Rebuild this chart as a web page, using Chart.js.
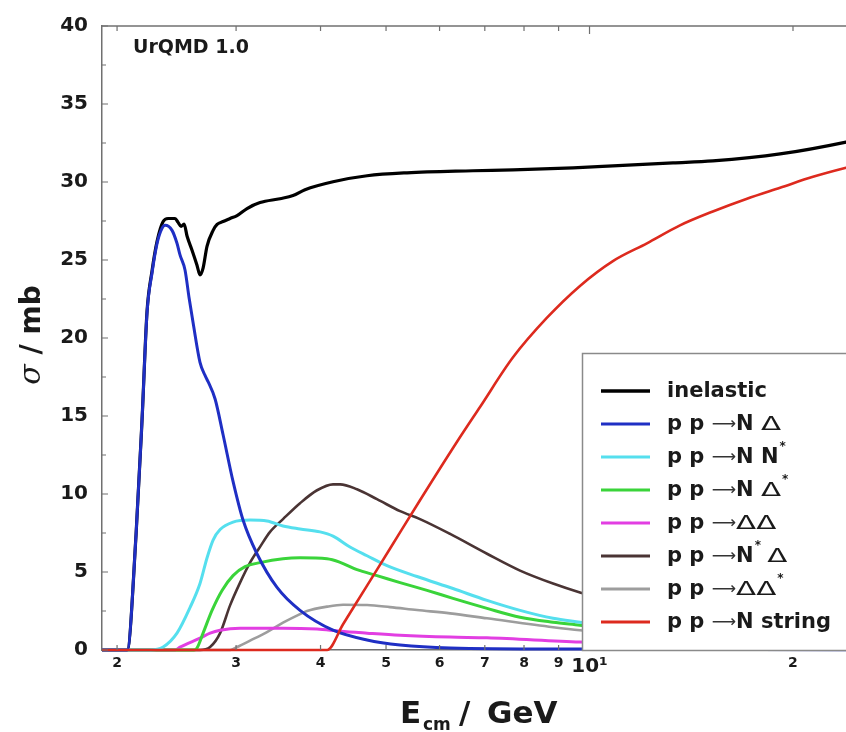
<!DOCTYPE html>
<html>
<head>
<meta charset="utf-8">
<script src="https://cdn.jsdelivr.net/npm/chart.js@4.4.1/dist/chart.umd.min.js"></script>
<style>
  html, body { margin: 0; padding: 0; overflow: hidden; background: #fff; width: 846px; height: 732px; }
  canvas { display: block; }
</style>
</head>
<body>
<canvas id="c" width="870" height="732"></canvas>
<script>
// Centre-of-mass energy (GeV) and cross section (mb) for each p p channel

const eInelastic = [1.9, 2.07, 2.134, 2.178, 2.215, 2.253, 2.292, 2.34, 2.38, 2.437, 2.462, 2.487, 2.513, 2.539, 2.582, 2.626, 2.653, 2.681, 2.717, 2.774, 2.812, 2.87, 2.939, 3.01, 3.114, 3.255, 3.484, 3.642, 3.794, 4.174, 4.687, 5.371, 6.724, 7.706, 9.454, 10.83, 13.29, 15.22, 19.14, 23.96, 25];
const sigInelastic = [0, 0, 7.44, 14.82, 21.7, 24.3, 26.2, 27.47, 27.66, 27.66, 27.41, 27.15, 27.3, 26.52, 25.63, 24.67, 24.04, 24.48, 25.88, 26.9, 27.28, 27.47, 27.66, 27.85, 28.3, 28.68, 28.93, 29.13, 29.51, 30.02, 30.4, 30.59, 30.72, 30.78, 30.91, 31.03, 31.22, 31.35, 31.8, 32.56, 32.75];

const eNDelta = [1.9, 2.07, 2.134, 2.178, 2.215, 2.253, 2.292, 2.331, 2.356, 2.412, 2.453, 2.479, 2.521, 2.556, 2.591, 2.653, 2.699, 2.727, 2.793, 2.87, 2.969, 3.072, 3.221, 3.449, 3.73, 4.174, 4.687, 5.245, 6.219, 9.68, 25];
const sigNDelta = [0, 0, 7.44, 14.82, 21.62, 24.17, 26.07, 27.03, 27.22, 26.9, 26.07, 25.31, 24.36, 22.58, 20.99, 18.44, 17.6, 17.2, 16.09, 13.8, 10.81, 8.33, 6.17, 4.01, 2.54, 1.27, 0.64, 0.32, 0.13, 0.06, 0.02];

const eNNstar = [1.9, 2.238, 2.34, 2.453, 2.565, 2.653, 2.717, 2.774, 2.841, 2.969, 3.146, 3.333, 3.52, 3.73, 3.994, 4.174, 4.422, 4.687, 5.016, 5.557, 6.281, 7.053, 7.893, 8.831, 9.68, 12, 16, 25];
const sigNNstar = [0, 0, 0.19, 1.08, 2.73, 4.26, 5.9, 7.05, 7.72, 8.2, 8.33, 8.27, 7.95, 7.76, 7.57, 7.3, 6.6, 6.04, 5.41, 4.71, 3.94, 3.18, 2.54, 2.03, 1.78, 1.2, 0.8, 0.45];

const eNDeltaStar = [1.9, 2.6, 2.626, 2.681, 2.764, 2.86, 2.969, 3.093, 3.255, 3.52, 3.73, 4.09, 4.276, 4.529, 4.848, 5.245, 5.749, 6.281, 7.053, 7.893, 8.831, 9.68, 12, 16, 25];
const sigNDeltaStar = [0, 0, 0.13, 1.08, 2.54, 3.82, 4.77, 5.34, 5.6, 5.85, 5.91, 5.85, 5.62, 5.15, 4.77, 4.32, 3.82, 3.31, 2.67, 2.1, 1.78, 1.59, 1.1, 0.7, 0.4];

const eDeltaDelta = [1.9, 2.437, 2.479, 2.653, 2.746, 2.841, 3.041, 3.52, 3.953, 4.276, 4.687, 5.245, 6.219, 7.053, 9.68, 14, 25];
const sigDeltaDelta = [0, 0, 0.19, 0.76, 1.08, 1.27, 1.4, 1.4, 1.34, 1.2, 1.08, 0.95, 0.83, 0.78, 0.51, 0.35, 0.2];

const eNstarDelta = [1.9, 2.653, 2.746, 2.841, 2.939, 3.041, 3.146, 3.255, 3.368, 3.52, 3.73, 3.953, 4.174, 4.276, 4.529, 4.848, 5.245, 5.613, 6.219, 7.053, 7.893, 8.831, 9.68, 12, 16, 25];
const sigNstarDelta = [0, 0, 0.19, 1.08, 2.86, 4.32, 5.6, 6.61, 7.57, 8.39, 9.41, 10.24, 10.62, 10.62, 10.3, 9.67, 8.9, 8.39, 7.44, 6.17, 5.09, 4.26, 3.69, 2.6, 1.7, 0.9];

const eDeltaDeltaStar = [1.9, 2.939, 3.01, 3.146, 3.333, 3.52, 3.73, 3.82, 4.09, 4.319, 4.687, 5.067, 5.557, 6.219, 7.053, 8.831, 9.68, 14, 25];
const sigDeltaDeltaStar = [0, 0, 0.19, 0.6, 1.15, 1.75, 2.3, 2.5, 2.78, 2.9, 2.88, 2.75, 2.56, 2.35, 2.03, 1.46, 1.27, 0.8, 0.45];

const eString = [1.9, 4.09, 4.319, 4.687, 5.067, 5.613, 6.368, 6.887, 7.706, 8.652, 9.68, 10.83, 12.16, 13.61, 15.22, 17.1, 19.14, 21.41, 23.96, 25];
const sigString = [0, 0, 1.65, 4.13, 6.49, 9.6, 13.35, 15.58, 18.76, 21.3, 23.34, 24.93, 26.07, 27.22, 28.11, 28.93, 29.63, 30.33, 30.91, 31.1];

const xTickValues = [2, 3, 4, 5, 6, 7, 8, 9, 10, 20];
const xTickLabels = ['2', '3', '4', '5', '6', '7', '8', '9', '10\u00B9', '2'];
const yMinorTicks = [2.5, 7.5, 12.5, 17.5, 22.5, 27.5, 32.5, 37.5];

const seriesNames = ['inelastic', 'p p \u27F6N \u0394', 'p p \u27F6N N*', 'p p \u27F6N \u0394*', 'p p \u27F6\u0394\u0394', 'p p \u27F6N* \u0394', 'p p \u27F6\u0394\u0394*', 'p p \u27F6N string'];
const seriesColors = ['#000000', '#1f2fc4', '#55dfee', '#3ad43a', '#e23ee2', '#4a3434', '#9d9d9d', '#dd2a1e'];

const BOLD = '"DejaVu Sans", sans-serif';

function pts(e, s) { return e.map((x, i) => ({ x: x, y: s[i] })); }

const lineWidths = [3.2, 3, 3, 3, 3, 2.6, 2.6, 2.6];
const drawOrder = [7, 1, 2, 3, 4, 5, 6, 0];
const seriesData = [
  pts(eInelastic, sigInelastic),
  pts(eNDelta, sigNDelta),
  pts(eNNstar, sigNNstar),
  pts(eNDeltaStar, sigNDeltaStar),
  pts(eDeltaDelta, sigDeltaDelta),
  pts(eNstarDelta, sigNstarDelta),
  pts(eDeltaDeltaStar, sigDeltaDeltaStar),
  pts(eString, sigString)
];

const datasets = seriesData.map((d, i) => ({
  label: seriesNames[i],
  data: d,
  borderColor: seriesColors[i],
  backgroundColor: seriesColors[i],
  borderWidth: lineWidths[i],
  pointRadius: 0,
  cubicInterpolationMode: 'monotone',
  fill: false,
  clip: 5,
  order: drawOrder[i]
}));

// Inward tick marks on the frame plus the top edge
const frameTicks = {
  id: 'frameTicks',
  afterDatasetsDraw(chart) {
    const { ctx, chartArea: a, scales: { x, y } } = chart;
    ctx.save();
    ctx.strokeStyle = '#707070';
    ctx.lineWidth = 1.5;
    ctx.beginPath();
    ctx.moveTo(a.left, a.top); ctx.lineTo(a.right, a.top);
    ctx.stroke();
    ctx.lineWidth = 1.2;
    ctx.beginPath();
    for (let v = 0; v <= 40; v += 5) {
      const py = y.getPixelForValue(v);
      ctx.moveTo(a.left, py); ctx.lineTo(a.left + 6, py);
    }
    yMinorTicks.forEach(v => {
      const py = y.getPixelForValue(v);
      ctx.moveTo(a.left, py); ctx.lineTo(a.left + 4, py);
    });
    xTickValues.forEach(v => {
      const px = x.getPixelForValue(v);
      const len = v === 10 ? 8 : 5;
      ctx.moveTo(px, a.bottom); ctx.lineTo(px, a.bottom - len);
      ctx.moveTo(px, a.top); ctx.lineTo(px, a.top + len);
    });
    ctx.stroke();
    ctx.restore();
  }
};

// Legend box inside the plot, lower right
const legendBox = {
  id: 'legendBox',
  afterDatasetsDraw(chart) {
    const ctx = chart.ctx;
    const bx = 582, by = 353, bh = 297;
    ctx.save();
    ctx.fillStyle = '#ffffff';
    ctx.fillRect(bx, by, 400, bh);
    ctx.strokeStyle = '#8a8a8a';
    ctx.lineWidth = 1.5;
    ctx.strokeRect(bx + 0.5, by + 0.5, 400, bh);
    ctx.textBaseline = 'middle';
    ctx.textAlign = 'left';
    seriesNames.forEach((name, i) => {
      const ry = 391 + i * 33;
      ctx.strokeStyle = seriesColors[i];
      ctx.lineWidth = i === 0 ? 3.6 : 3.2;
      ctx.beginPath();
      ctx.moveTo(601, ry); ctx.lineTo(650, ry);
      ctx.stroke();
      let tx = 667;
      for (const ch of name) {
        ctx.fillStyle = '#1a1a1a';
        if (ch === '*') {
          ctx.font = 'bold 12px ' + BOLD;
          ctx.fillText(ch, tx + 1, ry - 10);
          tx += ctx.measureText(ch).width;
        } else if (ch === '\u27F6') {
          ctx.font = '17px ' + BOLD;
          ctx.fillStyle = '#333';
          ctx.fillText(ch, tx, ry + 1);
          tx += ctx.measureText(ch).width;
        } else if (ch === '\u0394') {
          ctx.font = '21px ' + BOLD;
          const w = ctx.measureText(ch).width;
          ctx.save();
          ctx.translate(tx, ry + 1);
          ctx.scale(1.4, 0.95);
          ctx.fillText(ch, 0, 0);
          ctx.restore();
          tx += w * 1.4;
        } else {
          ctx.font = 'bold 21px ' + BOLD;
          ctx.fillText(ch, tx, ry + 1);
          tx += ctx.measureText(ch).width;
        }
      }
    });
    ctx.restore();
  }
};

// Model tag and axis titles
const titles = {
  id: 'titles',
  afterDraw(chart) {
    const ctx = chart.ctx;
    ctx.save();
    ctx.fillStyle = '#1a1a1a';
    ctx.textBaseline = 'alphabetic';
    ctx.textAlign = 'left';
    ctx.font = 'bold 19px ' + BOLD;
    ctx.fillText('UrQMD 1.0', 133, 53);

    // x title: E_cm / GeV
    const base = 723;
    ctx.font = 'bold 31px ' + BOLD;
    ctx.fillText('E', 400, base);
    ctx.font = 'bold 17px ' + BOLD;
    ctx.fillText('cm', 423, base + 7);
    ctx.font = 'bold 31px ' + BOLD;
    ctx.fillText('/', 459, base);
    ctx.fillText('GeV', 487, base);

    // y title: sigma / mb, rotated
    ctx.translate(40, 335);
    ctx.rotate(-Math.PI / 2);
    ctx.font = 'italic 30px "DejaVu Serif", serif';
    const wS = ctx.measureText('\u03C3').width;
    ctx.font = 'bold 28px ' + BOLD;
    const wR = ctx.measureText(' / mb').width;
    let sx = -(wS + wR) / 2;
    ctx.font = 'italic 30px "DejaVu Serif", serif';
    ctx.fillText('\u03C3', sx, 0);
    ctx.font = 'bold 28px ' + BOLD;
    ctx.fillText(' / mb', sx + wS, 0);
    ctx.restore();
  }
};

new Chart(document.getElementById('c'), {
  type: 'line',
  data: { datasets: datasets },
  options: {
    responsive: false,
    animation: false,
    devicePixelRatio: 1,
    layout: { padding: { top: 21, right: 11.5, left: 0, bottom: 0 } },
    plugins: { legend: { display: false }, tooltip: { enabled: false } },
    scales: {
      x: {
        type: 'logarithmic',
        min: 1.9,
        max: 25,
        grid: { display: false, drawTicks: false },
        border: { display: true, color: '#707070', width: 1.5 },
        afterBuildTicks: s => { s.ticks = xTickValues.map(v => ({ value: v })); },
        afterFit: s => { s.height = 82; },
        ticks: {
          autoSkip: false,
          maxRotation: 0,
          padding: 5,
          color: '#1a1a1a',
          font: c => (c.tick && c.tick.value === 10)
            ? { family: BOLD, size: 20, weight: 'bold' }
            : { family: BOLD, size: 14, weight: 'bold' },
          callback: v => {
            const k = xTickValues.indexOf(v);
            return k >= 0 ? xTickLabels[k] : '';
          }
        }
      },
      y: {
        min: 0,
        max: 40,
        grid: { display: false, drawTicks: false },
        border: { display: true, color: '#707070', width: 1.5 },
        afterFit: s => { s.width = 102; },
        ticks: {
          stepSize: 5,
          padding: 14,
          color: '#1a1a1a',
          font: { family: BOLD, size: 20, weight: 'bold' }
        }
      }
    }
  },
  plugins: [frameTicks, legendBox, titles]
});
</script>
</body>
</html>
